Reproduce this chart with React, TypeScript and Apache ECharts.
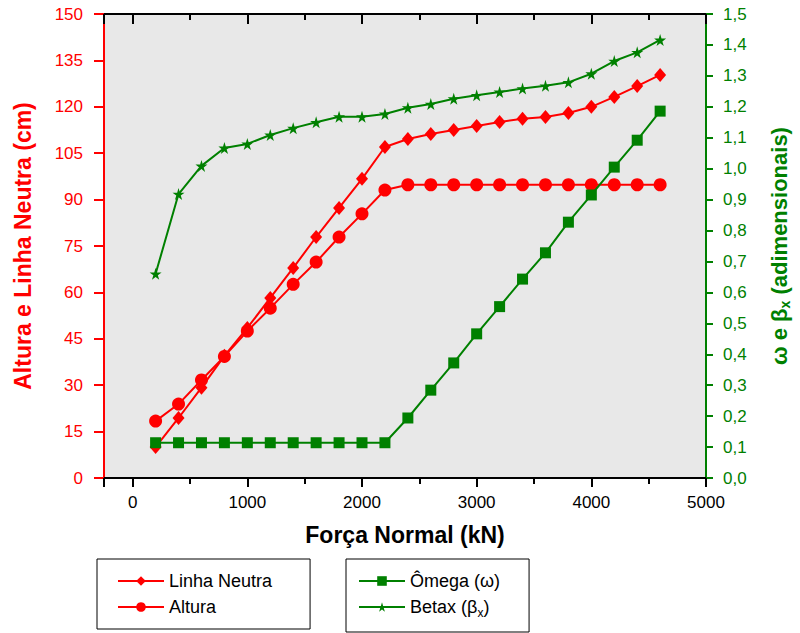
import React, { useEffect, useRef } from "react";
import * as echarts from "echarts";

const forcaNormal = [200, 400, 600, 800, 1000, 1200, 1400, 1600, 1800, 2000, 2200, 2400, 2600, 2800, 3000, 3200, 3400, 3600, 3800, 4000, 4200, 4400, 4600];
const linhaNeutra = [10.0, 19.4, 29.2, 39.5, 48.5, 58.2, 67.9, 77.9, 87.3, 96.7, 107.0, 109.6, 111.2, 112.5, 113.8, 115.1, 116.1, 116.7, 118.0, 120.0, 123.2, 126.7, 130.3];
const altura = [18.4, 23.9, 31.7, 39.3, 47.5, 54.9, 62.6, 69.8, 77.9, 85.4, 93.1, 94.8, 94.8, 94.8, 94.8, 94.8, 94.8, 94.8, 94.8, 94.8, 94.8, 94.8, 94.8];
const omega = [0.114, 0.114, 0.114, 0.114, 0.114, 0.114, 0.114, 0.114, 0.114, 0.114, 0.114, 0.194, 0.284, 0.372, 0.466, 0.554, 0.643, 0.728, 0.827, 0.915, 1.005, 1.092, 1.186];
const betax = [0.660, 0.918, 1.009, 1.067, 1.080, 1.109, 1.131, 1.150, 1.168, 1.168, 1.177, 1.197, 1.209, 1.226, 1.237, 1.248, 1.259, 1.268, 1.279, 1.307, 1.348, 1.376, 1.416];

const RED = "#ff0000";
const GREEN = "#008000";
const FONT = "'Liberation Sans', Arial, sans-serif";
const STAR = "path://M50,0 L61,35 L98,35 L68,57 L79,91 L50,70 L21,91 L32,57 L2,35 L39,35 Z";

const pairs = (ys: number[]) => forcaNormal.map((x, i) => [x, ys[i]]);

export default function App() {
  const ref = useRef<HTMLDivElement>(null);
  useEffect(() => {
    if (!ref.current) return;
    const chart = echarts.init(ref.current, null, { renderer: "svg" });
    const legendText = {
      fontSize: 18,
      color: "#000",
      fontFamily: FONT,
      rich: {
        s: { fontSize: 12, color: "#000", fontFamily: FONT, verticalAlign: "bottom", lineHeight: 24 },
      },
    };
    chart.setOption({
      animation: false,
      grid: {
        left: 104,
        right: 84,
        top: 14,
        bottom: 155,
        show: true,
        backgroundColor: "#e8e8e8",
        borderWidth: 0,
      },
      xAxis: [
        {
          type: "value",
          min: -250,
          max: 5000,
          position: "bottom",
          name: "Força Normal (kN)",
          nameLocation: "middle",
          nameGap: 45,
          nameTextStyle: { fontSize: 23, fontWeight: "bold", color: "#000", fontFamily: FONT },
          axisLine: { show: true, onZero: false, lineStyle: { color: "#000", width: 2 } },
          axisTick: { show: true, inside: false, length: 9, lineStyle: { color: "#000", width: 2 } },
          minorTick: { show: true, splitNumber: 2, length: 6, lineStyle: { color: "#000", width: 2 } },
          axisLabel: {
            fontSize: 17,
            color: "#000",
            fontFamily: FONT,
            margin: 16,
            showMinLabel: false,
            formatter: (v: number) => (v < 0 ? "" : String(v)),
          },
          splitLine: { show: false },
        },
        {
          type: "value",
          min: -250,
          max: 5000,
          position: "top",
          axisLine: { show: true, onZero: false, lineStyle: { color: "#000", width: 2 } },
          axisTick: { show: true, inside: true, length: 10, lineStyle: { color: "#000", width: 2 } },
          minorTick: { show: true, splitNumber: 2, length: 6, lineStyle: { color: "#000", width: 2 } },
          axisLabel: { show: false },
          splitLine: { show: false },
        },
      ],
      yAxis: [
        {
          type: "value",
          min: 0,
          max: 150,
          interval: 15,
          position: "left",
          name: "Altura e Linha Neutra (cm)",
          nameLocation: "middle",
          nameGap: 70,
          nameTextStyle: { fontSize: 23, fontWeight: "bold", color: RED, fontFamily: FONT },
          axisLine: { show: true, onZero: false, lineStyle: { color: RED, width: 2 } },
          axisTick: { show: true, inside: false, length: 10, lineStyle: { color: RED, width: 2 } },
          axisLabel: { fontSize: 17, color: RED, fontFamily: FONT, margin: 21 },
          splitLine: { show: false },
        },
        {
          type: "value",
          min: 0,
          max: 1.5,
          interval: 0.1,
          position: "right",
          name: "{t|ω e β}{s|x}{t| (adimensionais)}",
          nameLocation: "middle",
          nameGap: 60,
          nameTextStyle: {
            color: GREEN,
            rich: {
              t: { fontSize: 22, fontWeight: "bold", color: GREEN, fontFamily: FONT, lineHeight: 26 },
              s: { fontSize: 14, fontWeight: "bold", color: GREEN, fontFamily: FONT, lineHeight: 26, verticalAlign: "bottom" },
            },
          },
          axisLine: { show: true, onZero: false, lineStyle: { color: GREEN, width: 2 } },
          axisTick: { show: true, inside: false, length: 7, lineStyle: { color: GREEN, width: 2 } },
          axisLabel: {
            fontSize: 17,
            color: GREEN,
            fontFamily: FONT,
            margin: 17,
            formatter: (v: number) => v.toFixed(1).replace(".", ","),
          },
          splitLine: { show: false },
        },
      ],
      legend: [
        {
          left: 97,
          top: 559,
          orient: "vertical",
          data: ["Linha Neutra", "Altura"],
          borderColor: "#000",
          borderWidth: 1,
          padding: [13, 38, 13, 20],
          itemWidth: 46,
          itemHeight: 12,
          itemGap: 8,
          textStyle: legendText,
        },
        {
          left: 346,
          top: 559,
          orient: "vertical",
          data: ["Ômega (ω)", "Betax (βx)"],
          borderColor: "#000",
          borderWidth: 1,
          padding: [13, 29, 13, 12],
          itemWidth: 46,
          itemHeight: 12,
          itemGap: 8,
          textStyle: legendText,
          formatter: (name: string) => (name === "Betax (βx)" ? "Betax (β{s|x})" : name),
        },
      ],
      series: [
        {
          name: "Linha Neutra",
          type: "line",
          xAxisIndex: 0,
          yAxisIndex: 0,
          data: pairs(linhaNeutra),
          symbol: "diamond",
          symbolSize: [12, 14],
          lineStyle: { color: RED, width: 2 },
          itemStyle: { color: RED },
          z: 3,
        },
        {
          name: "Altura",
          type: "line",
          xAxisIndex: 0,
          yAxisIndex: 0,
          data: pairs(altura),
          symbol: "circle",
          symbolSize: 13,
          lineStyle: { color: RED, width: 2 },
          itemStyle: { color: RED },
          z: 3,
        },
        {
          name: "Ômega (ω)",
          type: "line",
          xAxisIndex: 0,
          yAxisIndex: 1,
          data: pairs(omega),
          symbol: "rect",
          symbolSize: 11,
          lineStyle: { color: GREEN, width: 2 },
          itemStyle: { color: GREEN },
          z: 4,
        },
        {
          name: "Betax (βx)",
          type: "line",
          xAxisIndex: 0,
          yAxisIndex: 1,
          data: pairs(betax),
          symbol: STAR,
          symbolSize: 12,
          lineStyle: { color: GREEN, width: 2 },
          itemStyle: { color: GREEN },
          z: 4,
        },
      ],
    });
    return () => chart.dispose();
  }, []);
  return (
    <div
      ref={ref}
      style={{ position: "absolute", left: 0, top: 0, width: 800, height: 633, background: "#fff" }}
    />
  );
}
